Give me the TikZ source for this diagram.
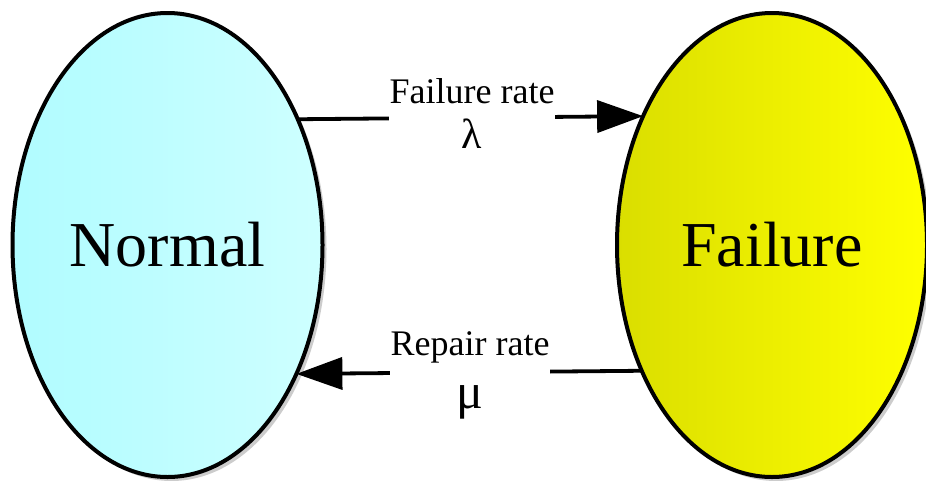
\documentclass[tikz,border=0pt]{standalone}
\usepackage{fontspec}
\setmainfont{Liberation Serif}
\usetikzlibrary{arrows.meta,shapes.geometric,shadows}
\begin{document}
\begin{tikzpicture}[x=1pt,y=-1pt,
  state/.style={ellipse, draw=black, line width=4pt, minimum width=310pt, minimum height=464pt,
    inner sep=0pt, outer sep=0pt, font=\fontsize{64}{70}\selectfont,
    drop shadow={shadow xshift=4pt, shadow yshift=-4pt, opacity=0.2, fill=black}},
  conn/.style={line width=3.8pt},
  arrowtip/.style={-{Triangle[length=46pt,width=32pt]}},
  lbl/.style={fill=white, inner xsep=1pt, inner ysep=0pt, align=center, font=\fontsize{36}{47}\selectfont}
]
\fill[white] (0,0) rectangle (926,480);
\useasboundingbox (0,0) rectangle (926,480);
\node[state, left color={rgb,255:red,176;green,252;blue,255}, right color={rgb,255:red,206;green,255;blue,255}] (N) at (167.5,245) {Normal};
\node[state, left color={rgb,255:red,218;green,222;blue,0}, right color={rgb,255:red,255;green,255;blue,0}] (F) at (772,245) {Failure};
\draw[conn, arrowtip] (N.44.7) -- (F.135.3);
\draw[conn, arrowtip] (F.224.7) -- (N.315.3);
\node[lbl] (l1) at (472,114) {Failure rate\\[-2pt]{\fontsize{42}{47}\selectfont λ}};
\node[lbl] (l2) at (470,375) {Repair rate\\[6pt]{\fontsize{50}{52}\selectfont μ}};
\end{tikzpicture}
\end{document}
